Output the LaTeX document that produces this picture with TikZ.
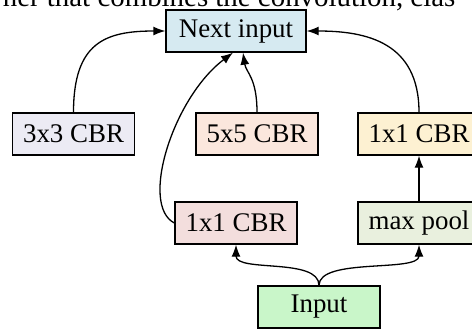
\documentclass[tikz,border=0pt]{standalone}
\usepackage{fontspec}
\setmainfont{Liberation Serif}
\usetikzlibrary{arrows.meta}
\definecolor{nextblue}{HTML}{D6EAF1}
\definecolor{lavender}{HTML}{ECEBF4}
\definecolor{peach}{HTML}{FBE7DD}
\definecolor{cream}{HTML}{FDF1D2}
\definecolor{rose}{HTML}{F3DEDD}
\definecolor{sage}{HTML}{E9F0DE}
\definecolor{mint}{HTML}{C9F6C9}

\begin{document}
\begin{tikzpicture}[x=1bp,y=-1bp]
      \tikzstyle{every node}=[font=\fontsize{27}{31}\selectfont]
      \tikzstyle{block}=[draw, line width=1.3bp, minimum width=122bp, minimum height=42bp, inner sep=0pt]
      \tikzstyle{flow}=[-{Latex[length=12bp,width=9bp]}, line width=1.3bp]
      \useasboundingbox (0,0) rectangle (472,331);
      \node[anchor=base west,inner sep=0pt,font=\fontsize{29}{33}\selectfont] (caption) at (-7,6) {rner that combines the convolution, clas};

      \node[block,fill=nextblue,minimum width=140bp] (next) at (236,31)  {Next input};
      \node[block,fill=lavender] (conv3)  at (73.5,134) {3x3 CBR};
      \node[block,fill=peach]    (conv5)  at (257,134)  {5x5 CBR};
      \node[block,fill=cream]    (conv1b) at (419,134)  {1x1 CBR};
      \node[block,fill=rose]     (conv1a) at (236,223)  {1x1 CBR};
      \node[block,fill=sage]     (pool)   at (419,223)  {max pool};
      \node[block,fill=mint]     (input)  at (319,307)  {Input};

      \draw[flow] (conv3.north) .. controls +(0,-70) and +(-60,0) .. (next.west);
      \draw[flow] (conv1b.north) .. controls +(0,-70) and +(60,0) .. (next.east);
      \draw[flow] (conv5.north) .. controls +(0,-35) and +(3,20) .. ([xshift=7bp]next.south);
      \draw[flow] (conv1a.west) .. controls +(-35,-18) and +(-60,45) .. ([xshift=-3bp]next.south);
      \draw[flow] (pool.north) -- (conv1b.south);
      \draw[flow] (input.north) .. controls +(0,-28) and +(0,28) .. (conv1a.south);
      \draw[flow] (input.north) .. controls +(0,-28) and +(0,28) .. (pool.south);
    \end{tikzpicture}
\end{document}
